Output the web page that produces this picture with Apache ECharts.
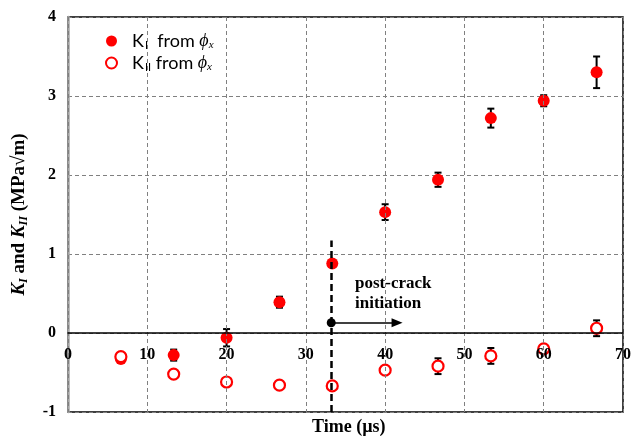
<!DOCTYPE html>
<html>
<head>
<meta charset="utf-8">
<script src="https://cdn.jsdelivr.net/npm/echarts@6/dist/echarts.min.js"></script>
<style>
  html, body { margin: 0; padding: 0; background: #fff; }
  #chart { width: 638px; height: 438px; }
</style>
</head>
<body>
<div id="chart"></div>
<script>
// Stress intensity factors vs time
const times  = [6.67, 13.33, 20, 26.67, 33.33, 40, 46.67, 53.33, 60, 66.67];
const kI     = [-0.33, -0.28, -0.06, 0.39, 0.88, 1.53, 1.94, 2.72, 2.94, 3.30];
const kIErr  = [0.03, 0.07, 0.11, 0.07, 0.04, 0.10, 0.09, 0.12, 0.07, 0.20];
const kII    = [-0.30, -0.52, -0.62, -0.66, -0.67, -0.47, -0.42, -0.29, -0.20, 0.06];
const kIIErr = [0.03, 0.04, 0.03, 0.03, 0.03, 0.04, 0.10, 0.10, 0.05, 0.10];

const xTicks = [0, 10, 20, 30, 40, 50, 60, 70];
const yMin = -1, yMax = 4;

// crack initiation marker
const crackTime = 33.2;
const crackLineTop = 1.17;
const arrowY = 0.13;
const arrowEnd = 41.5;
const noteAt = [36.2, 0.5];

const serif = '"Liberation Serif", "Times New Roman", serif';
const sans = 'Lato, "Open Sans", sans-serif';
const red = '#ff0000';

// plot box in pixels
const gridBox = { left: 68, right: 15, top: 17, bottom: 26 };
const plotH = 438 - gridBox.top - gridBox.bottom;
// x-axis line and labels sit on y = 0
const zeroOffset = -plotH * (0 - yMin) / (yMax - yMin);

function errorBars(xs, ys, es) {
  return xs.map((x, i) => [x, ys[i], es[i]]);
}

function renderErr(params, api) {
  const x = api.value(0), y = api.value(1), e = api.value(2);
  const top = api.coord([x, y + e]);
  const bot = api.coord([x, y - e]);
  const cap = 3.5;
  const style = { stroke: '#000', lineWidth: 2 };
  return {
    type: 'group',
    children: [
      { type: 'line', shape: { x1: top[0], y1: top[1], x2: bot[0], y2: bot[1] }, style },
      { type: 'line', shape: { x1: top[0] - cap, y1: top[1], x2: top[0] + cap, y2: top[1] }, style },
      { type: 'line', shape: { x1: bot[0] - cap, y1: bot[1], x2: bot[0] + cap, y2: bot[1] }, style }
    ]
  };
}

const chart = echarts.init(document.getElementById('chart'), null, { renderer: 'canvas' });

const legendRich = {
  k: { fontFamily: sans, fontSize: 18, color: '#000' },
  s: { fontFamily: sans, fontSize: 11, color: '#000', padding: [9, 0, 0, 1] },
  p: { fontFamily: serif, fontSize: 18, fontStyle: 'italic', color: '#000' },
  ps: { fontFamily: serif, fontSize: 11, fontStyle: 'italic', color: '#000', padding: [9, 0, 0, 0] }
};

const option = {
  animation: false,
  backgroundColor: '#fff',
  grid: Object.assign({
    show: true, borderColor: '#000', borderWidth: 1.5, backgroundColor: 'transparent'
  }, gridBox),
  legend: {
    orient: 'vertical',
    left: 100, top: 27,
    itemWidth: 11, itemHeight: 11,
    itemGap: 3,
    data: [
      { name: 'KI', icon: 'circle' },
      { name: 'KII', icon: 'circle' }
    ],
    formatter: function (name) {
      return name === 'KI'
        ? '{k|K}{s|I}{k|  from }{p|\u03d5}{ps|x}'
        : '{k|K}{s|II}{k| from }{p|\u03d5}{ps|x}';
    },
    textStyle: { rich: legendRich, padding: [0, 0, 0, 10] }
  },
  xAxis: {
    type: 'value',
    min: 0, max: 70, interval: 10,
    z: 5,
    offset: zeroOffset,
    axisLine: { onZero: false, lineStyle: { color: '#000', width: 1.5 } },
    axisTick: { show: false },
    axisLabel: {
      margin: 14,
      showMinLabel: true, showMaxLabel: true,
      fontFamily: serif, fontWeight: 'bold', fontSize: 16, color: '#000',
      customValues: xTicks
    },
    splitLine: { show: true, lineStyle: { color: '#808080', type: [4, 3], width: 1 } }
  },
  yAxis: {
    type: 'value',
    min: yMin, max: yMax, interval: 1,
    axisLine: { show: true, onZero: false, lineStyle: { color: '#a6a6a6', width: 2.5 } },
    axisTick: { show: false },
    axisLabel: {
      margin: 12,
      fontFamily: serif, fontWeight: 'bold', fontSize: 16, color: '#000'
    },
    splitLine: { show: true, lineStyle: { color: '#808080', type: [4, 3], width: 1 } },
    name: '{bi|K}{bis|I}{b| and }{bi|K}{bis|II}{b| (MPa\u221am)}',
    nameLocation: 'middle',
    nameGap: 38,
    nameRotate: 90,
    nameTextStyle: {
      rich: {
        b: { fontFamily: serif, fontWeight: 'bold', fontSize: 19, color: '#000' },
        bi: { fontFamily: serif, fontWeight: 'bold', fontStyle: 'italic', fontSize: 19, color: '#000' },
        bis: { fontFamily: serif, fontWeight: 'bold', fontStyle: 'italic', fontSize: 12, color: '#000', padding: [9, 0, 0, 0] }
      }
    }
  },
  graphic: [
    {
      type: 'text',
      left: 312, top: 418,
      style: {
        text: 'Time (\u00b5s)',
        font: 'bold 18px ' + serif,
        fill: '#000'
      }
    }
  ],
  series: [
    {
      name: 'KIerr', type: 'custom', renderItem: renderErr, z: 2,
      data: errorBars(times, kI, kIErr), silent: true
    },
    {
      name: 'KI', type: 'scatter', symbol: 'circle', symbolSize: 12, z: 3,
      itemStyle: { color: red, opacity: 1 },
      data: times.map((t, i) => [t, kI[i]])
    },
    {
      name: 'KIIerr', type: 'custom', renderItem: renderErr, z: 3,
      data: errorBars(times, kII, kIIErr), silent: true
    },
    {
      name: 'KII', type: 'scatter', symbol: 'circle', symbolSize: 11, z: 4,
      itemStyle: { color: '#fff', borderColor: red, borderWidth: 2.2, opacity: 1 },
      data: times.map((t, i) => [t, kII[i]])
    },
    {
      name: 'crack', type: 'line', data: [], z: 6, silent: true,
      markLine: {
        silent: true,
        symbol: ['none', 'none'],
        label: { show: false },
        lineStyle: { color: '#000', type: [7, 4], width: 2.5 },
        data: [[{ coord: [crackTime, yMin] }, { coord: [crackTime, crackLineTop] }]]
      }
    },
    {
      name: 'arrow', type: 'line', data: [], z: 7, silent: true,
      markLine: {
        silent: true,
        symbol: ['circle', 'triangle'],
        symbolSize: [9, 11],
        label: { show: false },
        lineStyle: { color: '#000', type: 'solid', width: 1.5 },
        itemStyle: { color: '#000' },
        data: [[{ coord: [crackTime, arrowY] }, { coord: [arrowEnd, arrowY] }]]
      },
      markPoint: {
        silent: true,
        symbol: 'circle', symbolSize: 0,
        label: {
          show: true,
          position: 'right',
          distance: 0,
          formatter: 'post-crack\ninitiation',
          fontFamily: serif, fontWeight: 'bold', fontSize: 17,
          lineHeight: 20, color: '#000'
        },
        data: [{ coord: noteAt }]
      }
    }
  ]
};

chart.setOption(option);
</script>
</body>
</html>
